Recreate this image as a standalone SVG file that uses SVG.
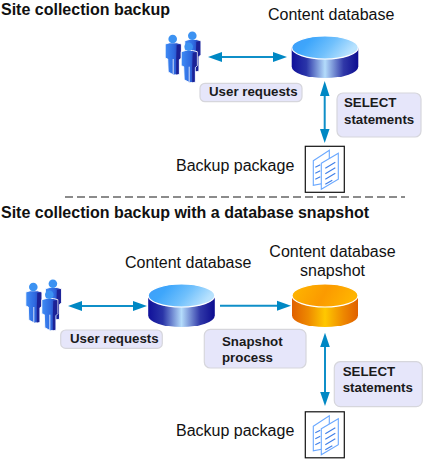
<svg xmlns="http://www.w3.org/2000/svg" xmlns:xlink="http://www.w3.org/1999/xlink" width="423" height="459" viewBox="0 0 423 459">
<style>
text{font-family:"Liberation Sans",Arial,sans-serif;fill:#111}
.title{font-weight:bold;font-size:16px}
.lbl{font-size:16px}
.note{font-weight:bold;font-size:13.300px;fill:#1a1a1a}
.box{fill:#e6e6fa;stroke:#d6d6dc;stroke-width:1.2}
.conn{stroke:#0f8fc8;stroke-width:2;fill:none}
.head{fill:#0088c4}
.page{fill:#fff;stroke:#6aa8ff;stroke-width:1.1}
.rule{stroke:#3f7fe8;stroke-width:1.1}
</style>
<defs>
<linearGradient id="bodyBlue" x1="0" x2="1" y1="0" y2="0">
<stop offset="0" stop-color="#10109a"/><stop offset=".22" stop-color="#2a35a8"/><stop offset=".5" stop-color="#b4dcfb"/><stop offset=".78" stop-color="#3038a8"/><stop offset="1" stop-color="#0c0c90"/>
</linearGradient>
<linearGradient id="topBlue" x1="0" x2="1" y1="0" y2="0.3">
<stop offset="0" stop-color="#3e9cf8"/><stop offset=".3" stop-color="#3ea6fb"/><stop offset=".65" stop-color="#70c0fc"/><stop offset="1" stop-color="#b8e2fe"/>
</linearGradient>
<linearGradient id="bodyOrange" x1="0" x2="1" y1="0" y2="0">
<stop offset="0" stop-color="#e06000"/><stop offset=".25" stop-color="#ee8a00"/><stop offset=".5" stop-color="#ffc800"/><stop offset=".78" stop-color="#ee8800"/><stop offset="1" stop-color="#e06000"/>
</linearGradient>
<linearGradient id="topOrange" x1="0" x2="1" y1="0" y2="0.2">
<stop offset="0" stop-color="#ffb800"/><stop offset=".55" stop-color="#fb9a00"/><stop offset="1" stop-color="#ffb400"/>
</linearGradient>
<linearGradient id="man" x1="0" x2="1" y1="0" y2="0">
<stop offset="0" stop-color="#3f8cf5"/><stop offset=".55" stop-color="#2f6ae0"/><stop offset="1" stop-color="#2430a8"/>
</linearGradient>
<g id="person">
<path d="M-7.500 5 L-3 3.800 H4 L8.500 5 V19 L6.500 21 V35.500 L1 36 L-4.500 33 L-5 20 L-7.500 19 Z" fill="url(#man)" stroke="#fff" stroke-width="0.9" stroke-linejoin="round"/>
<path d="M4 6 L8 5.500 V19 L6 20.500 V35 L3.500 35.500 V20 Z" fill="#1c2296"/>
<path d="M0.500 20 V35.500" stroke="#fff" stroke-width="0.8"/>
<circle cx="0" cy="0" r="4.300" fill="#3c92f2"/>
</g>
<g id="people">
<use xlink:href="#person" href="#person" x="19.600" y="-3.300"/>
<use xlink:href="#person" href="#person" x="0" y="0"/>
<use xlink:href="#person" href="#person" x="16" y="7.700"/>
</g>
<g id="doc">
<rect x="0" y="0" width="39" height="46" fill="#fff" stroke="#111" stroke-width="1.2"/>
<path class="page" d="M8 14.500 L24 4 V36 L8 39 Z"/>
<path class="rule" d="M10 21 L15 18.500 M10 27 L15 24.500 M10 33 L15 30.500"/>
<path class="page" d="M16 17 L33 7 V33 L16 43 Z"/>
<path class="rule" d="M20 22 L30 16 M20 27.500 L30 21.500 M20 33 L30 27 M20 38 L27 34"/>
</g>
</defs>

<g id="connectors">
<line class="conn" x1="220" y1="57" x2="275" y2="57"/>
<path class="head" d="M208 57 L222 52 V62 Z"/><path class="head" d="M287 57 L273 52 V62 Z"/>
<line class="conn" x1="324.700" y1="92" x2="324.700" y2="132"/>
<path class="head" d="M324.700 81 L329.500 96 H320 Z"/><path class="head" d="M324.700 143 L329.500 129 H320 Z"/>
<line class="conn" x1="80" y1="306" x2="135" y2="306"/>
<path class="head" d="M68 306 L82 301 V311 Z"/><path class="head" d="M147 306 L133 301 V311 Z"/>
<line class="conn" x1="220" y1="305.700" x2="280" y2="305.700"/>
<path class="head" d="M291 305.700 L277 300.700 V310.700 Z"/>
<line class="conn" x1="325" y1="344" x2="325" y2="394"/>
<path class="head" d="M325 332.700 L329.800 347 H320.200 Z"/><path class="head" d="M325 406 L329.800 392 H320.200 Z"/>
<line x1="65" y1="197" x2="405" y2="197" stroke="#666" stroke-width="1.6" stroke-dasharray="8 4"/>
</g>

<g id="title-top"><text class="title" x="1" y="15">Site collection backup</text></g>
<g id="users-top"><use xlink:href="#people" href="#people" x="172.700" y="39"/></g>
<g id="db-top">
<text class="lbl" x="268" y="20">Content database</text>
<path d="M291.700 47.500 V66.500 A33.300 11.500 0 0 0 358.300 66.500 V47.500 Z" fill="url(#bodyBlue)"/>
<ellipse cx="325" cy="47.500" rx="33.300" ry="11.500" fill="url(#topBlue)" stroke="#fff" stroke-width="1.2"/>
</g>
<g id="note-users-top"><rect class="box" x="200" y="83.300" width="102" height="18.400" rx="5"/><text class="note" x="209" y="95.500">User requests</text></g>
<g id="note-select-top"><rect class="box" x="337" y="93" width="84" height="44" rx="6"/><text class="note" x="344" y="107">SELECT</text><text class="note" x="344" y="124">statements</text></g>
<g id="backup-top"><text class="lbl" x="176" y="171">Backup package</text><use xlink:href="#doc" href="#doc" x="305.300" y="146.300"/></g>

<g id="title-bottom"><text class="title" x="1" y="218">Site collection backup with a database snapshot</text></g>
<g id="users-bottom"><use xlink:href="#people" href="#people" x="33.300" y="287"/></g>
<g id="db-bottom">
<text class="lbl" x="125" y="268">Content database</text>
<path d="M148.200 295.500 V315.500 A33.300 11.500 0 0 0 214.800 315.500 V295.500 Z" fill="url(#bodyBlue)"/>
<ellipse cx="181.500" cy="295.500" rx="33.300" ry="11.500" fill="url(#topBlue)" stroke="#fff" stroke-width="1.2"/>
</g>
<g id="db-snapshot">
<text class="lbl" x="332.500" y="257" text-anchor="middle">Content database</text>
<text class="lbl" x="332.500" y="276" text-anchor="middle">snapshot</text>
<path d="M292 295.500 V315.500 A33 11.500 0 0 0 358 315.500 V295.500 Z" fill="url(#bodyOrange)"/>
<ellipse cx="325" cy="295.500" rx="33" ry="11.500" fill="url(#topOrange)" stroke="#fff" stroke-width="1.2"/>
</g>
<g id="note-users-bottom"><rect class="box" x="60.700" y="330" width="101.600" height="18.400" rx="5"/><text class="note" x="70" y="342.700">User requests</text></g>
<g id="note-snapshot"><rect class="box" x="204.300" y="329.300" width="101.700" height="38.700" rx="6"/><text class="note" x="222" y="346">Snapshot</text><text class="note" x="222" y="362">process</text></g>
<g id="note-select-bottom"><rect class="box" x="334.300" y="361.700" width="88" height="45" rx="6"/><text class="note" x="342.700" y="376">SELECT</text><text class="note" x="342.700" y="392.300">statements</text></g>
<g id="backup-bottom"><text class="lbl" x="176" y="436">Backup package</text><use xlink:href="#doc" href="#doc" x="305.300" y="411.800"/></g>
</svg>
